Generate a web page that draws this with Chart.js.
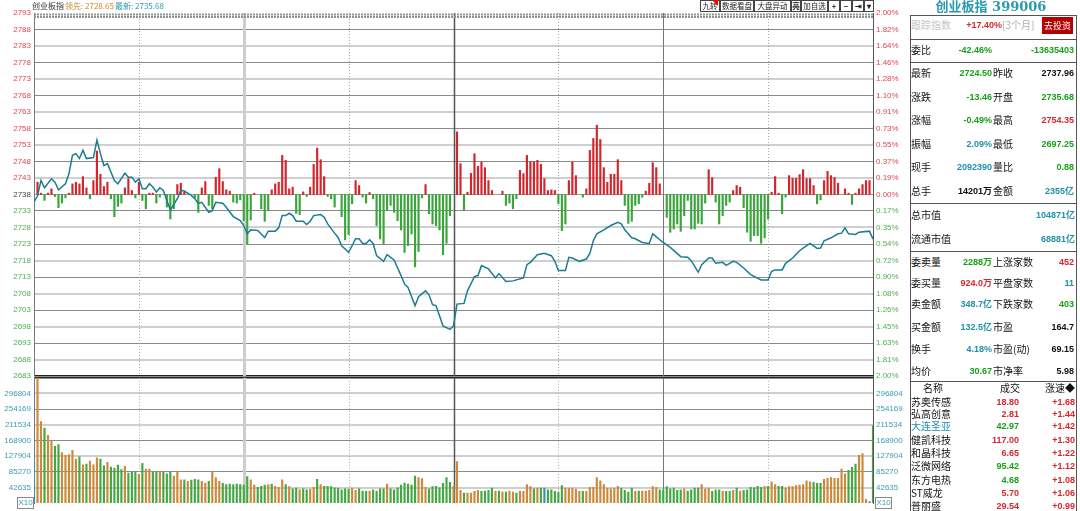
<!DOCTYPE html>
<html>
<head>
<meta charset="utf-8">
<script src="https://cdn.jsdelivr.net/npm/chart.js@4.4.1/dist/chart.umd.min.js"></script>
<style>
  body { margin: 0; width: 1080px; height: 511px; overflow: hidden; background: #fff; position: relative; }
  canvas { position: absolute; left: 0; }
  #priceCv { top: 0; }
  #volCv { top: 370px; }
  .t { position: absolute; white-space: nowrap; line-height: 14px; height: 14px; font-family: "Noto Sans CJK SC", sans-serif; }
  .num { font-family: "Liberation Sans", "Noto Sans CJK SC", sans-serif; font-weight: bold; }
  .btn { position: absolute; top: 0; height: 12px; border: 1px solid #444; background: #fff; font: 7.5px/10px "Noto Sans CJK SC", sans-serif; color: #222; text-align: center; box-sizing: border-box; white-space: nowrap; overflow: hidden; }
  .hl { position: absolute; height: 1px; background: #555; left: 910px; width: 167px; }
  .box { position: absolute; border: 1px solid #888; font: 8px/10px "Liberation Sans", sans-serif; color: #3a9cb5; text-align: center; width: 15px; height: 10px; }
</style>
</head>
<body>
<canvas id="priceCv" width="908" height="385"></canvas>
<canvas id="volCv" width="908" height="141"></canvas>
<div id="overlay"></div>
<script>
// ---- data ----
const prevClose = 2737.96;
const halfRange = 54.76;

const priceLabels = ['2793','2788','2783','2778','2773','2768','2763','2758','2753','2748','2743','2738',
  '2733','2728','2723','2718','2713','2708','2703','2698','2693','2688','2683'];
const pctLabels = ['2.00%','1.82%','1.64%','1.46%','1.28%','1.10%','0.91%','0.73%','0.55%','0.37%','0.19%','0.00%',
  '0.17%','0.35%','0.54%','0.72%','0.90%','1.08%','1.26%','1.45%','1.63%','1.81%','2.00%'];
const volLabels = ['296804','254169','211534','168900','127904','85270','42635'];
const volStep = 42635;

// [minute, price]
const pricePoints = [
  [0,2735.7],[1,2737.5],[2,2742.2],[3,2740.0],[5,2742.7],[6,2741.7],[7,2739.4],[9,2741.2],[10,2744.2],[11,2749.8],
  [12,2750.3],[13,2748.8],[14,2751.3],[15,2748.8],[17,2749.1],[18,2754.35],[19,2750.3],[20,2746.7],[21,2747.3],[23,2742.2],
  [24,2741.2],[26,2744.4],[27,2743.2],[28,2743.2],[29,2741.7],[30,2742.7],[31,2739.7],[32,2739.7],[33,2741.2],[34,2740.2],
  [35,2738.7],[36,2740.0],[37,2739.2],[39,2733.3],[41,2736.7],[42,2739.2],[43,2739.0],[45,2737.7],[46,2736.7],[47,2735.3],
  [48,2735.6],[50,2732.6],[51,2733.1],[52,2735.6],[54,2735.3],[55,2734.1],[57,2731.3],[59,2730.1],[60,2728.6],[61,2726.1],
  [62,2727.3],[64,2727.1],[66,2725.0],[67,2726.9],[69,2726.9],[70,2727.9],[71,2731.6],[72,2731.6],[73,2732.3],[74,2731.6],
  [75,2729.9],[77,2729.9],[78,2728.9],[79,2729.9],[80,2731.6],[82,2731.9],[83,2731.1],[84,2729.1],[86,2726.3],[87,2725.0],
  [88,2722.5],[90,2720.5],[91,2722.5],[92,2724.6],[93,2724.6],[94,2723.2],[95,2723.2],[96,2724.3],[97,2723.2],[98,2719.5],
  [100,2717.8],[101,2719.8],[103,2718.2],[105,2713.5],[106,2710.9],[107,2709.9],[109,2704.4],[110,2707.1],[112,2708.9],[113,2707.7],
  [114,2704.7],[115,2704.4],[117,2698.3],[119,2697.25],[120,2698.3],[121,2704.9],[123,2705.1],[124,2708.9],[126,2713.2],[127,2713.5],
  [128,2716.5],[130,2715.5],[132,2712.8],[133,2714.1],[135,2711.7],[137,2711.9],[140,2712.8],[141,2716.8],[142,2717.5],[144,2719.8],
  [146,2720.2],[148,2719.5],[149,2717.8],[150,2715.0],[152,2715.0],[153,2719.0],[154,2718.8],[156,2717.8],[158,2718.5],[159,2720.2],
  [160,2724.0],[161,2726.1],[163,2727.3],[165,2728.6],[167,2729.6],[168,2729.1],[169,2727.3],[171,2724.9],[172,2724.6],[174,2723.5],
  [176,2723.2],[177,2726.1],[179,2724.3],[180,2723.5],[182,2722.0],[185,2719.2],[187,2719.0],[188,2718.0],[190,2714.5],[191,2716.8],
  [193,2718.8],[194,2718.8],[195,2717.2],[197,2717.5],[198,2716.6],[200,2717.8],[201,2717.5],[203,2715.8],[205,2713.8],[208,2712.2],
  [210,2712.2],[211,2714.8],[212,2715.2],[214,2715.2],[215,2717.2],[217,2718.8],[219,2721.0],[220,2721.8],[222,2723.2],[224,2721.7],
  [225,2721.8],[226,2724.0],[228,2724.9],[230,2726.1],[231,2726.3],[232,2727.9],[233,2726.1],[235,2725.9],[236,2726.6],[239,2726.9],
  [240,2724.5]
];

// red / green strength bars, [minute, value in index points]
const flowBars = [
  [1,3.7],[2,0.4],[3,-1.8],[4,0.4],[5,1.7],[6,-0.6],[7,-4.0],[8,-2.6],[9,-1.0],[10,0.4],
  [11,3.2],[12,3.7],[13,3.2],[14,5.4],[15,2.0],[16,-1.3],[17,4.2],[18,13.1],[19,6.1],[20,2.4],
  [21,3.7],[22,-1.3],[23,-6.7],[24,-3.6],[25,-2.6],[26,2.0],[27,4.8],[28,1.2],[29,-1.0],[30,3.7],
  [31,-1.8],[32,-4.3],[33,0.4],[34,0.4],[35,-2.6],[36,-0.8],[38,-3.8],[39,-7.4],[40,-4.3],
  [41,3.0],[42,3.4],[43,0.7],[46,-1.0],[47,-5.4],[48,2.0],[49,3.9],[50,-3.3],
  [51,-4.3],[52,5.2],[53,7.8],[54,3.9],[55,1.4],[56,1.0],[57,-2.3],[58,-2.6],[59,-1.6],[60,-7.9],
  [61,-14.9],[62,-7.7],[63,0.4],[65,-4.3],[66,-8.1],[67,-4.8],[68,1.4],[69,3.2],[70,3.7],
  [71,11.8],[72,10.3],[73,1.7],[74,2.2],[75,-5.7],[76,-6.1],[77,0.8],[78,-0.6],[79,2.2],[80,9.1],
  [81,14.0],[82,10.5],[83,5.4],[84,-0.6],[85,-1.3],[86,-3.8],[88,-6.7],[89,-13.7],[90,-12.1],
  [91,-2.8],[92,4.2],[93,2.7],[94,-0.8],[95,-2.6],[96,0.6],[97,-1.3],[98,-9.4],[99,-13.4],[100,-14.9],
  [101,-4.8],[102,-3.3],[103,-5.4],[104,-7.9],[105,-10.7],[106,-17.5],[107,-15.4],[108,-11.9],[109,-21.8],[110,-17.2],
  [111,-1.0],[112,3.0],[113,-5.8],[114,-8.9],[115,-9.4],[116,-10.7],[117,-18.2],[118,-14.7],[119,-6.4],
  [121,18.9],[122,9.3],[123,-4.8],[124,0.7],[125,6.4],[126,12.3],[127,8.5],[128,9.8],[129,8.1],[130,4.2],
  [131,1.2],[134,1.0],[135,-3.3],[136,-2.6],[137,-4.3],[138,-1.3],[139,7.3],[140,6.3],
  [141,11.8],[142,9.8],[143,9.8],[144,10.3],[145,9.1],[146,4.8],[147,1.2],[148,1.4],[149,1.2],[150,-2.8],
  [151,-10.9],[152,-8.9],[153,4.2],[154,9.8],[155,5.7],[157,-0.8],[158,1.7],[159,13.3],[160,16.9],
  [161,20.9],[162,16.6],[163,8.1],[164,3.7],[165,6.1],[166,6.1],[167,10.5],[168,4.2],[169,-3.3],[170,-8.7],
  [171,-8.1],[172,-3.3],[173,-2.8],[174,-0.8],[175,1.0],[176,3.4],[177,9.6],[178,8.1],[179,3.2],
  [181,-6.9],[182,-11.4],[183,-10.4],[184,-8.9],[185,-11.1],[186,-6.4],[187,-1.8],[188,-10.4],[189,-10.4],[190,-8.7],
  [191,-8.9],[192,-2.6],[193,7.5],[194,5.1],[195,-2.3],[196,-8.9],[197,-6.4],[198,-3.3],[199,-2.3],[200,1.2],
  [201,2.7],[202,2.2],[203,-4.0],[204,-11.4],[205,-14.1],[206,-12.4],[207,-12.4],[208,-14.7],[209,-13.1],[210,-7.4],
  [211,0.7],[212,5.4],[213,0.4],[214,-5.8],[215,-0.8],[216,5.7],[217,4.9],[218,4.9],[219,6.0],[220,7.5],
  [221,4.8],[222,4.8],[223,2.7],[224,-2.8],[225,-1.6],[226,4.2],[227,7.0],[228,5.7],[229,5.1],[230,3.4],
  [232,1.7],[233,0.4],[234,-3.0],[235,0.4],[236,1.7],[237,3.0],[238,4.2],[239,4.2]
];

// volume (x10) per minute, index = minute 0..240
const volumes = [
  113100,352000,221850,204450,184440,169650,154860,159210,137460,130500,
  132240,143550,120060,126150,104400,106140,114840,104400,123540,120060,
  101790,111360,98310,95700,103530,91350,100050,81780,84390,84390,
  78300,108750,93090,93090,84390,84390,84390,84390,80040,84390,
  73950,87000,63510,63510,59160,62640,65250,63510,59160,54810,
  59160,84390,69600,59160,53940,50460,52200,50460,52200,50460,
  49590,72210,63510,49590,43500,46110,49590,50460,52200,46110,
  43500,63510,50460,45240,39150,40890,36540,39150,36540,37410,
  43500,65250,50460,46110,46110,45240,41760,40890,36540,39150,
  37410,40890,34800,39150,33060,32190,33060,36540,33060,39150,
  39150,52200,39150,36540,41760,49590,54810,52200,49590,73950,
  69600,66990,43500,39150,45240,46110,41760,53940,69600,56550,
  45240,113100,34800,27840,27840,27840,32190,34800,32190,33060,
  34800,40890,33060,33060,30450,30450,33060,30450,27840,32190,
  32190,50460,45240,39150,40890,40890,40890,36540,36540,32190,
  30450,47850,40890,40890,40890,37410,32190,32190,32190,43500,
  43500,69600,60900,50460,40890,39150,40890,46110,40890,34800,
  30450,40890,33060,33060,33060,33060,34800,45240,43500,36540,
  36540,45240,39150,40890,34800,36540,39150,33060,36540,40890,
  40890,50460,39150,40890,32190,36540,36540,32190,32190,32190,
  34800,40890,33060,34800,36540,43500,41760,46110,43500,46110,
  46110,58290,50460,46110,46110,40890,45240,45240,47850,49590,
  50460,60900,58290,56550,53940,53940,65250,67860,69600,67860,
  67860,93090,80040,89610,97440,106140,130500,134850,10440,4350,
  210540
];
// t = flat, u = up, d = down, one letter per minute
const volDir =
  'tuuduudduu' + 'uuududuuud' + 'dudddduddd' + 'uduudduddd' + 'uuududdduu' +
  'duuudddddd' + 'dduudddudu' + 'uududduddu' + 'ududdddddd' + 'duuddduddd' +
  'dudddddddd' + 'uuuddddddd' + 'uuuduuuudd' + 'ddududuudu' + 'uuududtddd' +
  'dduuuuuduu' + 'uuuuuuuudd' + 'dduduuuuud' + 'dddddduddd' + 'duuudddudd' +
  'ududdddddu' + 'duudduuuuu' + 'uuuddduuuu' + 'uuuddduuut' + 'd';

// 30-minute guides
const guideMinutes = [30, 60, 90, 120, 150, 180, 210];

// ---- colours ----
const C = {
  line: '#1b7d90',
  red: '#d3262c',
  green: '#3aa53a',
  volUp: '#cc8a3c',
  volDown: '#43a843',
  volFlat: '#2f93b5',
  gridDark: '#8a8a8a',
  gridLight: '#cfcfcf',
  tickRed: '#e2474f',
  tickGreen: '#4fb04f',
  tickTeal: '#3a9cb5'
};

const stepPts = halfRange / 11;
const tickFont = { family: "'Liberation Sans', Arial, sans-serif", size: 8 };

function priceGridColor(i) {
  if (i === 0) return '#222';
  if (i === 22) return 'rgba(0,0,0,0)';
  if (i === 11) return '#9a9a9a';
  const dark = i > 11 ? (22 - i) % 2 === 1 : i % 2 === 0;
  return dark ? C.gridDark : C.gridLight;
}
function priceGridWidth(i) {
  if (i === 0) return 1.5;
  if (i === 11 || i === 22) return 1;
  const dark = i > 11 ? (22 - i) % 2 === 1 : i % 2 === 0;
  return dark ? 1 : 2;
}

// vertical guides + dotted top band
const guidesPlugin = {
  id: 'guides',
  beforeDatasetsDraw(chart, args, opts) {
    const { ctx, chartArea: a, scales: { x } } = chart;
    ctx.save();
    guideMinutes.forEach(m => {
      const px = Math.round(x.getPixelForValue(m)) + 0.5;
      ctx.setLineDash([]);
      if (m % 60 === 30) { ctx.strokeStyle = '#a8a8a8'; ctx.lineWidth = 1; ctx.setLineDash([1, 2]); }
      else if (m === 60) { ctx.strokeStyle = '#cdcdcd'; ctx.lineWidth = 3; }
      else if (m === 120) { ctx.strokeStyle = '#555'; ctx.lineWidth = 1.5; }
      else { ctx.strokeStyle = '#777'; ctx.lineWidth = 1; }
      ctx.beginPath(); ctx.moveTo(px, a.top); ctx.lineTo(px, a.bottom); ctx.stroke();
    });
    if (opts.band) {
      ctx.setLineDash([2, 1]);
      ctx.strokeStyle = '#8d9496';
      ctx.lineWidth = 2;
      [a.top + 1.5, a.top + 4].forEach(yy => {
        ctx.beginPath(); ctx.moveTo(a.left, yy); ctx.lineTo(a.right, yy); ctx.stroke();
      });
    }
    ctx.restore();
  }
};

const priceTicks = s => { s.ticks = priceLabels.map((_, k) => ({ value: prevClose - halfRange + k * stepPts })); };
const minuteAxis = { type: 'linear', min: 0, max: 240, offset: false, display: false };

new Chart(document.getElementById('priceCv'), {
  data: {
    datasets: [
      {
        type: 'line',
        data: pricePoints.map(p => ({ x: p[0], y: p[1] })),
        borderColor: C.line,
        borderWidth: 1.5,
        pointRadius: 0,
        tension: 0,
        yAxisID: 'y',
        order: 0
      },
      {
        type: 'bar',
        data: flowBars.map(b => ({ x: b[0], y: b[1] })),
        backgroundColor: ctx => (ctx.raw && ctx.raw.y >= 0) ? C.red : C.green,
        barThickness: 1.5,
        yAxisID: 'yf',
        order: 1
      }
    ]
  },
  options: {
    responsive: false,
    animation: false,
    layout: { padding: { top: 13, bottom: 9, left: 0, right: 0 } },
    plugins: { legend: { display: false }, tooltip: { enabled: false }, guides: { band: true } },
    scales: {
      x: minuteAxis,
      y: {
        position: 'left',
        min: prevClose - halfRange, max: prevClose + halfRange,
        afterBuildTicks: priceTicks,
        afterFit: s => { s.width = 34; },
        ticks: {
          autoSkip: false, padding: 3, font: tickFont,
          callback: (v, i) => priceLabels[22 - i],
          color: ctx => ctx.index > 11 ? C.tickRed : (ctx.index === 11 ? '#444' : C.tickGreen)
        },
        grid: { drawTicks: false, color: ctx => priceGridColor(ctx.index), lineWidth: ctx => priceGridWidth(ctx.index) },
        border: { display: true, color: '#777', width: 1 }
      },
      yp: {
        position: 'right',
        min: prevClose - halfRange, max: prevClose + halfRange,
        afterBuildTicks: priceTicks,
        afterFit: s => { s.width = 35; },
        ticks: {
          autoSkip: false, padding: 3, font: tickFont,
          callback: (v, i) => pctLabels[22 - i],
          color: ctx => ctx.index >= 11 ? C.tickRed : C.tickGreen
        },
        grid: { drawOnChartArea: false, drawTicks: false },
        border: { display: true, color: '#555', width: 1 }
      },
      yf: { display: false, min: -halfRange, max: halfRange }
    }
  },
  plugins: [guidesPlugin]
});

const volColor = { u: C.volUp, d: C.volDown, t: C.volFlat };
const volTicks = s => { s.ticks = [0,1,2,3,4,5,6,7,8].map(k => ({ value: k * volStep })); };
const volGridColor = i => i === 8 ? '#222' : (i === 0 ? 'rgba(0,0,0,0)' : (i % 2 === 1 ? C.gridLight : C.gridDark));
const volGridWidth = i => i === 8 ? 1.5 : (i % 2 === 1 ? 2 : 1);
const volLabel = (v, i) => (i >= 1 && i <= 7) ? volLabels[7 - i] : '';

new Chart(document.getElementById('volCv'), {
  type: 'bar',
  data: {
    datasets: [{
      data: volumes.map((v, i) => ({ x: i, y: v })),
      backgroundColor: volumes.map((v, i) => volColor[volDir[i]]),
      barThickness: 1.5
    }]
  },
  options: {
    responsive: false,
    animation: false,
    layout: { padding: { top: 6, bottom: 4, left: 0, right: 0 } },
    plugins: { legend: { display: false }, tooltip: { enabled: false }, guides: { band: false } },
    scales: {
      x: minuteAxis,
      y: {
        position: 'left', min: 0, max: 8 * volStep,
        afterBuildTicks: volTicks,
        afterFit: s => { s.width = 34; },
        ticks: { autoSkip: false, padding: 3, font: tickFont, color: C.tickTeal, callback: volLabel },
        grid: { drawTicks: false, color: ctx => volGridColor(ctx.index), lineWidth: ctx => volGridWidth(ctx.index) },
        border: { display: true, color: '#777', width: 1 }
      },
      yr: {
        position: 'right', min: 0, max: 8 * volStep,
        afterBuildTicks: volTicks,
        afterFit: s => { s.width = 35; },
        ticks: { autoSkip: false, padding: 3, font: tickFont, color: C.tickTeal, callback: volLabel },
        grid: { drawOnChartArea: false, drawTicks: false },
        border: { display: true, color: '#555', width: 1 }
      }
    }
  },
  plugins: [guidesPlugin]
});

// ---- surrounding text ----
const ov = document.getElementById('overlay');
function put(str, x, y, o = {}) {
  const d = document.createElement('div');
  d.className = 't' + (o.num ? ' num' : '');
  d.textContent = str;
  d.style.top = (y - 7) + 'px';
  d.style.fontSize = (o.size || 10) + 'px';
  d.style.color = o.color || '#111';
  if (o.bold) d.style.fontWeight = 'bold';
  if (o.family) d.style.fontFamily = o.family;
  if (o.align === 'right') { d.style.left = (x - 200) + 'px'; d.style.width = '200px'; d.style.textAlign = 'right'; }
  else if (o.align === 'center') { d.style.left = (x - 100) + 'px'; d.style.width = '200px'; d.style.textAlign = 'center'; }
  else d.style.left = x + 'px';
  ov.appendChild(d);
  return d;
}
const R = '#d7262e', G = '#17a017', T = '#2190a8', K = '#111';

// chart header
put('创业板指', 32, 6, { size: 8, color: '#333' });
put('领先: 2728.65', 65, 6, { size: 8, color: '#c98a2e' });
put('最新: 2735.68', 115, 6, { size: 8, color: '#2a9ab0' });

// toolbar buttons
[['九转', 700, 20], ['数据看盘', 720, 34], ['大盘异动', 754, 37], ['亮', 791, 10], ['加自选', 801, 27],
 ['+', 828, 12], ['−', 840, 12], ['⇥', 852, 12], ['▾', 864, 10]].forEach(([s, x, w]) => {
  const b = document.createElement('div');
  b.className = 'btn'; b.textContent = s;
  b.style.left = x + 'px'; b.style.width = w + 'px';
  if (s.length === 1) b.style.fontWeight = 'bold';
  ov.appendChild(b);
});
const tri = document.createElement('div');
tri.style.cssText = 'position:absolute;left:712px;top:0;width:0;height:0;border-top:6px solid #e00;border-left:6px solid transparent;';
ov.appendChild(tri);

// X10 boxes
[17, 875].forEach(x => {
  const b = document.createElement('div');
  b.className = 'box'; b.textContent = 'X10';
  b.style.left = x + 'px'; b.style.top = '497px';
  ov.appendChild(b);
});

// right-hand quote panel
put('创业板指 399006', 991, 7, { size: 13, bold: true, color: '#2a9aae', align: 'center',
  family: "'DejaVu Serif', 'Noto Sans CJK SC', serif" });
[15, 39, 62, 203, 251, 381].forEach(y => {
  const l = document.createElement('div'); l.className = 'hl'; l.style.top = y + 'px'; ov.appendChild(l);
});
[910, 1076].forEach(x => {
  const l = document.createElement('div');
  l.style.cssText = `position:absolute;left:${x}px;top:15px;width:1px;height:496px;background:#555;`;
  ov.appendChild(l);
});

put('跟踪指数', 911, 25, { color: '#c4c4c4' });
put('+17.40%', 1002, 25, { num: true, size: 9, color: R, align: 'right' });
put('[3个月]', 1002, 25, { size: 10, color: '#b0b0b0' });
const btn = put('去投资', 1058, 25, { size: 9, color: '#fff', align: 'center' });
btn.style.left = '1042px'; btn.style.width = '31px'; btn.style.top = '17px'; btn.style.height = '17px';
btn.style.lineHeight = '17px'; btn.style.background = '#b40000';

put('委比', 911, 50);
put('-42.46%', 992, 50, { num: true, size: 9, color: G, align: 'right' });
put('-13635403', 1074, 50, { num: true, size: 9, color: G, align: 'right' });

const quoteRows = [
  [73, '最新', '2724.50', G, '昨收', '2737.96', K],
  [97, '涨跌', '-13.46', G, '开盘', '2735.68', G],
  [120, '涨幅', '-0.49%', G, '最高', '2754.35', R],
  [144, '振幅', '2.09%', T, '最低', '2697.25', G],
  [167, '现手', '2092390', T, '量比', '0.88', G],
  [191, '总手', '14201万', K, '金额', '2355亿', T],
  [262, '委卖量', '2288万', G, '上涨家数', '452', R],
  [283, '委买量', '924.0万', R, '平盘家数', '11', T],
  [304, '卖金额', '348.7亿', T, '下跌家数', '403', G],
  [327, '买金额', '132.5亿', T, '市盈', '164.7', K],
  [349, '换手', '4.18%', T, '市盈(动)', '69.15', K],
  [371, '均价', '30.67', G, '市净率', '5.98', K]
];
quoteRows.forEach(([y, l1, v1, c1, l2, v2, c2]) => {
  put(l1, 911, y);
  put(v1, 992, y, { num: true, size: 9, color: c1, align: 'right' });
  put(l2, 993, y);
  put(v2, 1074, y, { num: true, size: 9, color: c2, align: 'right' });
});
put('总市值', 911, 215);
put('104871亿', 1075, 215, { num: true, size: 9, color: T, align: 'right' });
put('流通市值', 911, 239);
put('68881亿', 1075, 239, { num: true, size: 9, color: T, align: 'right' });

put('名称', 933, 388, { align: 'center' });
put('成交', 1010, 388, { align: 'center' });
put('涨速◆', 1075, 388, { align: 'right' });

const stockRows = [
  [401.5, '苏奥传感', K, '18.80', R, '+1.68'],
  [413.5, '弘高创意', K, '2.81', R, '+1.44'],
  [426, '大连圣亚', T, '42.97', G, '+1.42'],
  [440, '健凯科技', K, '117.00', R, '+1.30'],
  [453, '和晶科技', K, '6.65', R, '+1.22'],
  [466, '泛微网络', K, '95.42', G, '+1.12'],
  [479.5, '东方电热', K, '4.68', G, '+1.08'],
  [492.5, 'ST威龙', K, '5.70', R, '+1.06'],
  [506, '普丽盛', K, '29.54', R, '+0.99']
];
stockRows.forEach(([y, name, nc, price, pc, speed]) => {
  put(name, 911, y, { color: nc });
  put(price, 1019, y, { num: true, size: 9, color: pc, align: 'right' });
  put(speed, 1075, y, { num: true, size: 9, color: R, align: 'right' });
});
</script>
</body>
</html>
